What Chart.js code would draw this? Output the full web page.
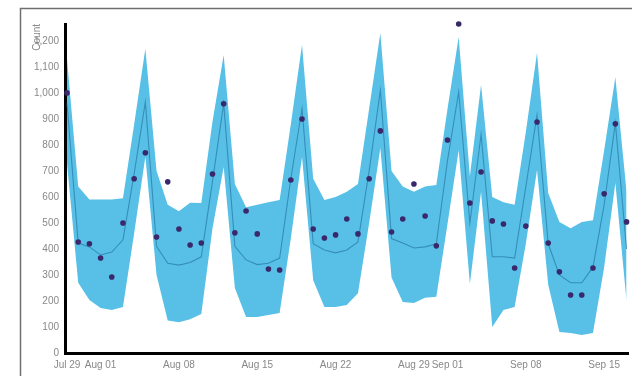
<!DOCTYPE html>
<html>
<head>
<meta charset="utf-8">
<script src="https://cdn.jsdelivr.net/npm/chart.js@4.4.1/dist/chart.umd.min.js"></script>
<style>
    html, body { margin: 0; padding: 0; background: #fff; }
    .chart { width: 632px; height: 376px; }
</style>
</head>
<body>
<div class="chart"><canvas id="forecast_chart" width="632" height="376"></canvas></div>
<script>
// day 0 = Jul 29, one value per day
const actual_values = [1000, 427, 420, 365, 292, 500, 670, 770, 446, 658, 477, 415, 423, 688, 958, 462, 546,
    458, 323, 319, 665, 900, 477, 442, 454, 515, 458, 670, 854, 465, 515, 650, 527, 412, 819, 1265, 577,
    696, 508, 496, 327, 488, 888, 423, 312, 223, 223, 327, 612, 881, 504];

const yhat_values = [960, 423, 408, 377, 388, 435, 690, 965, 410, 345, 338, 348, 370, 660, 960, 410, 358,
    340, 345, 365, 670, 940, 420, 396, 385, 396, 427, 700, 1010, 440, 423, 404, 408, 420, 740, 1004, 500,
    840, 370, 370, 365, 640, 915, 420, 300, 270, 270, 330, 570, 885, 400];

const upper_values = [1130, 640, 590, 590, 590, 595, 880, 1170, 700, 570, 545, 578, 577, 890, 1146, 650, 560,
    570, 580, 588, 880, 1185, 670, 588, 600, 620, 650, 940, 1230, 700, 640, 620, 640, 646, 938, 1215, 680,
    1031, 600, 580, 570, 850, 1154, 615, 504, 480, 504, 510, 780, 1060, 620];

const lower_values = [730, 270, 204, 173, 165, 177, 460, 755, 300, 125, 118, 130, 150, 480, 715, 250, 138,
    138, 146, 154, 440, 754, 280, 177, 177, 185, 230, 500, 788, 290, 196, 192, 212, 216, 496, 780, 265,
    620, 100, 165, 177, 420, 704, 262, 81, 77, 69, 77, 330, 654, 200];

const tick_days = [0, 3, 10, 17, 24, 31, 34, 41, 48];
const tick_labels = ['Jul 29', 'Aug 01', 'Aug 08', 'Aug 15', 'Aug 22', 'Aug 29', 'Sep 01', 'Sep 08', 'Sep 15'];

const band_color = 'rgb(88, 192, 230)';
const line_color = 'rgba(40, 125, 170, 0.75)';
const dot_color = 'rgb(58, 40, 108)';
const text_color = '#888888';

function to_points(values) {
    let lst = [];
    for (let i = 0; i < values.length; i++) {
        lst.push({x: i, y: values[i]});
    }
    return lst;
}

// grey frame around the figure
const frame_plugin = {
    id: 'frame',
    beforeDraw(chart) {
        let ctx = chart.ctx;
        ctx.save();
        ctx.fillStyle = '#fff';
        ctx.fillRect(0, 0, chart.width, chart.height);
        ctx.strokeStyle = '#6f6f6f';
        ctx.lineWidth = 1.5;
        ctx.strokeRect(20.5, 8.5, 800, 600);
        ctx.restore();
    }
};

let ctx = document.querySelector('#forecast_chart').getContext('2d');

let config = {
    type: 'line',
    data: {
        datasets: [
            {
                label: 'actual',
                data: to_points(actual_values),
                showLine: false,
                pointRadius: 2.8,
                pointBorderWidth: 0,
                pointBackgroundColor: dot_color,
                clip: false
            },
            {
                label: 'yhat',
                data: to_points(yhat_values),
                borderColor: line_color,
                borderWidth: 1.1,
                pointRadius: 0,
                fill: false
            },
            {
                label: 'upper',
                data: to_points(upper_values),
                borderWidth: 0,
                pointRadius: 0,
                backgroundColor: band_color,
                fill: '+1'
            },
            {
                label: 'lower',
                data: to_points(lower_values),
                borderWidth: 0,
                pointRadius: 0,
                fill: false
            }
        ]
    },
    options: {
        responsive: false,
        animation: false,
        layout: {
            padding: {top: 24, right: 0, left: 0, bottom: 0}
        },
        plugins: {
            legend: {display: false},
            tooltip: {enabled: false}
        },
        scales: {
            x: {
                type: 'linear',
                min: -0.18,
                max: 50.13,
                grid: {display: false, drawTicks: false},
                border: {display: true, color: '#000', width: 3},
                afterBuildTicks(scale) {
                    scale.ticks = tick_days.map(d => ({value: d}));
                },
                afterFit(scale) {
                    scale.height = 23;
                },
                ticks: {
                    autoSkip: false,
                    maxRotation: 0,
                    padding: 6,
                    color: text_color,
                    font: {family: 'Liberation Sans', size: 10},
                    callback: function (value) {
                        let k = tick_days.indexOf(value);
                        return k >= 0 ? tick_labels[k] : '';
                    }
                }
            },
            y: {
                min: 0,
                max: 1265,
                grid: {display: false, drawTicks: false},
                border: {display: true, color: '#000', width: 3},
                afterFit(scale) {
                    scale.width = 65;
                },
                title: {
                    display: true,
                    text: 'Count',
                    align: 'end',
                    color: text_color,
                    font: {family: 'Liberation Sans', size: 10},
                    padding: {top: 31, bottom: 0}
                },
                ticks: {
                    stepSize: 100,
                    includeBounds: false,
                    padding: 6,
                    color: text_color,
                    font: {family: 'Liberation Sans', size: 10}
                }
            }
        }
    },
    plugins: [frame_plugin]
};

new Chart(ctx, config);
</script>
</body>
</html>
